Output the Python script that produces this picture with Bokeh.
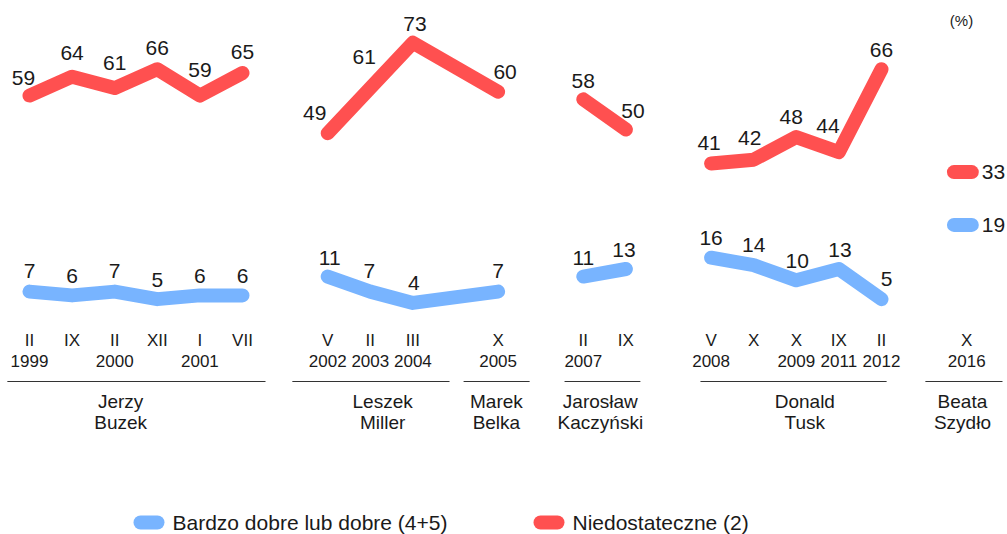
import math
from bokeh.plotting import figure
from bokeh.models import Range1d, ColumnDataSource
from bokeh.core.properties import value
from bokeh.embed import file_html
from bokeh.resources import INLINE

# ---------------- data ----------------
months = ["II", "IX", "II", "XII", "I", "VII", "V", "II", "III", "X", "II", "IX",
          "V", "X", "X", "IX", "II", "X"]
years = ["1999", "", "2000", "", "2001", "", "2002", "2003", "2004", "2005", "2007", "",
         "2008", "", "2009", "2011", "2012", "2016"]
premier = ["Buzek"] * 6 + ["Miller"] * 3 + ["Belka"] + ["Kaczyński"] * 2 + ["Tusk"] * 5 + ["Szydło"]
line_group = [0] * 6 + [1] * 4 + [2] * 2 + [3] * 5 + [4]
good = [7, 6, 7, 5, 6, 6, 11, 7, 4, 7, 11, 13, 16, 14, 10, 13, 5, 19]
bad = [59, 64, 61, 66, 59, 65, 49, 61, 73, 60, 58, 50, 41, 42, 48, 44, 66, 33]
first_names = ["Jerzy", "Leszek", "Marek", "Jarosław", "Donald", "Beata"]
last_names = ["Buzek", "Miller", "Belka", "Kaczyński", "Tusk", "Szydło"]
premier_order = ["Buzek", "Miller", "Belka", "Kaczyński", "Tusk", "Szydło"]
legend_labels = ["Bardzo dobre lub dobre (4+5)", "Niedostateczne (2)"]
unit_label = "(%)"

# ---------------- layout / style ----------------
W, H = 1007, 534
OFF = 0          # page offset of the figure inside the picture
FONT = "Liberation Sans"
RED = "#ff5050"
BLUE = "#78b4ff"
INK = "#1a1a1a"
LW = 14
UNIT = 42.6      # px per period slot (reference)
RX0 = 29.0       # reference px of first slot
RY0 = 317.5      # reference px of value 0
K = 3.77         # px per percentage point
LAST_SHIFT = 5.7  # marker-style display for the last cabinet


def xi(rx):
    return (rx - RX0) / UNIT


def vy(ry):
    return (RY0 - ry) / K


# label offsets in px (dx, dy)
bad_dx = [-6, 0, 0, 0, 0, 0, -13, -6, 2, 7, 0, 7, -2, -4, -5, -11, 0, 0]
bad_dy = [-18, -24, -25, -21, -26, -21, -20, -31, -19, -20, -18, -19, -20, -22, -20, -26, -19, 0]
good_dx = [0, 0, 0, 0, 0, 0, 2, -1, 1, 0, 0, -2, 0, 0, 1, 1, 5, 0]
good_dy = [-21, -19, -21, -19, -19, -19, -19, -21, -20, -21, -19, -19, -20, -20, -19, -19, -20, 0]
ext_left = [0.52, 0.83, 0.81, 0.44, 0.25, 0.97]
ext_right = [0.54, 0.86, 0.74, 0.34, 0.12, 0.84]
name_dx = [-0.36, 0.29, -0.04, -0.10, 0.20, -0.10]

# slot positions: one empty slot between cabinets
xpos = []
shift = 0
for i, pm in enumerate(premier):
    if i > 0 and pm != premier[i - 1]:
        shift += 1
    xpos.append(i + shift)

last_grp = max(line_group)


def broken(vals):
    xs, ys = [], []
    for i, (x, v, g) in enumerate(zip(xpos, vals, line_group)):
        if g == last_grp:
            continue
        if i > 0 and g != line_group[i - 1]:
            xs.append(math.nan)
            ys.append(math.nan)
        xs.append(x)
        ys.append(v)
    return xs, ys


p = figure(width=W, height=H, output_backend="svg", toolbar_location=None,
           x_range=Range1d(xi(OFF), xi(OFF + W)), y_range=Range1d(vy(OFF + H), vy(OFF)),
           min_border=0, x_axis_location=None, y_axis_location=None)
p.extra_y_ranges = {"last": Range1d(vy(OFF + H) - LAST_SHIFT, vy(OFF) - LAST_SHIFT)}
p.grid.visible = False
p.outline_line_color = None
p.background_fill_color = "white"
p.border_fill_color = "white"

# lines
rx, ry = broken(bad)
p.line(rx, ry, line_width=LW, line_color=RED, line_cap="round", line_join="round")
bx, by = broken(good)
p.line(bx, by, line_width=LW, line_color=BLUE, line_cap="round", line_join="round")

# last cabinet: single survey shown as short marker
lx = xpos[-1]
p.line([lx - 0.3, lx + 0.12], [bad[-1], bad[-1]], y_range_name="last", line_width=LW,
       line_color=RED, line_cap="round")
p.line([lx - 0.3, lx + 0.12], [good[-1], good[-1]], y_range_name="last", line_width=LW,
       line_color=BLUE, line_cap="round")
p.text(x=[lx, lx], y=[bad[-1], good[-1]], text=[str(bad[-1]), str(good[-1])],
       y_range_name="last", x_offset=15, text_align="left", text_baseline="middle",
       text_font=value(FONT), text_font_size="21px", text_color=INK)

# value labels
n = len(xpos) - 1
src_b = ColumnDataSource(dict(x=xpos[:n], y=bad[:n], t=[str(v) for v in bad[:n]],
                              dx=bad_dx[:n], dy=bad_dy[:n]))
p.text(x="x", y="y", text="t", x_offset="dx", y_offset="dy", source=src_b,
       text_align="center", text_baseline="middle", text_font=value(FONT),
       text_font_size="21px", text_color=INK)
src_g = ColumnDataSource(dict(x=xpos[:n], y=good[:n], t=[str(v) for v in good[:n]],
                              dx=good_dx[:n], dy=good_dy[:n]))
p.text(x="x", y="y", text="t", x_offset="dx", y_offset="dy", source=src_g,
       text_align="center", text_baseline="middle", text_font=value(FONT),
       text_font_size="21px", text_color=INK)

# period labels
p.text(x=xpos, y=[vy(340)] * len(xpos), text=months, text_align="center",
       text_baseline="middle", text_font=value(FONT), text_font_size="17px", text_color=INK)
p.text(x=xpos, y=[vy(360)] * len(xpos), text=years, text_align="center",
       text_baseline="middle", text_font=value(FONT), text_font_size="17px", text_color=INK)

# cabinet underlines and names
x0s, x1s, cx = [], [], []
for k, pm in enumerate(premier_order):
    xs = [x for x, q in zip(xpos, premier) if q == pm]
    x0s.append(min(xs) - ext_left[k])
    x1s.append(max(xs) + ext_right[k])
    cx.append((min(xs) + max(xs)) / 2 + name_dx[k])
p.segment(x0=x0s, y0=[vy(381)] * 6, x1=x1s, y1=[vy(381)] * 6, line_color="#333333",
          line_width=1.2)
p.text(x=cx, y=[vy(401)] * 6, text=first_names, text_align="center", text_baseline="middle",
       text_font=value(FONT), text_font_size="19px", text_color=INK)
p.text(x=cx, y=[vy(422)] * 6, text=last_names, text_align="center", text_baseline="middle",
       text_font=value(FONT), text_font_size="19px", text_color=INK)

# unit
p.text(x=[xi(961)], y=[vy(20)], text=[unit_label], text_align="center", text_baseline="middle",
       text_font=value(FONT), text_font_size="15px", text_color=INK)

# legend (pill-shaped keys, drawn like the markers)
leg_key_x = [xi(140), xi(540)]
leg_cols = [BLUE, RED]
leg_y = vy(522)
for kx, col in zip(leg_key_x, leg_cols):
    p.line([kx, kx + 17 / UNIT], [leg_y, leg_y], line_width=LW, line_color=col,
           line_cap="round")
p.text(x=[k + 32 / UNIT for k in leg_key_x], y=[leg_y, leg_y], text=legend_labels,
       text_align="left", text_baseline="middle", text_font=value(FONT),
       text_font_size="21px", text_color=INK)

open("out.html", "w").write(file_html(p, INLINE))
